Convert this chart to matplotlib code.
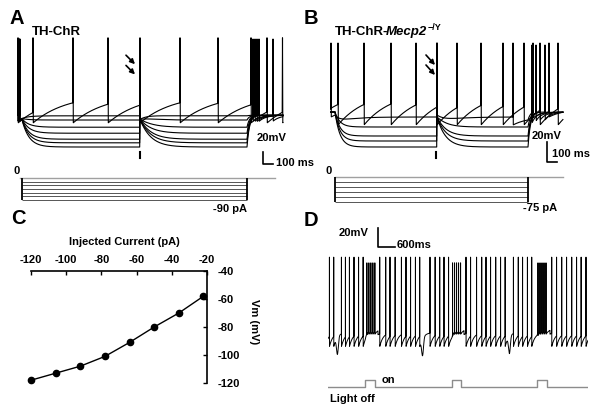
import numpy as np
import matplotlib
matplotlib.use("Agg")
import matplotlib.pyplot as plt

plt.rcParams["font.family"] = ["Liberation Sans", "DejaVu Sans"]
plt.rcParams["font.weight"] = "bold"
plt.rcParams["axes.linewidth"] = 1.2
plt.rcParams["axes.unicode_minus"] = False

# ---------------- data ----------------
# Panel A : TH-ChR
a_steps_pA = [0, -15, -30, -45, -60, -75, -90]
a_times_ms = [50, 1230, 2300, 2660]            # step on, light flash, step off, sweep end
a_rest_mV = -47
a_levels_mV = [-48, -55, -67, -77, -87, -93, -100]
a_start_spikes_ms = [6, 10, 14, 18, 22, 26, 30]
a_rebound_spikes_ms = [[2360], [2380], [], [2400, 2560], [], [2420], []]
a_pace_spikes_ms = [10, 160, 560, 910, 1230, 1630, 2010, 2340, 2500, 2655]

# Panel B : TH-ChR-Mecp2-/Y
b_steps_pA = [0, -15, -30, -45, -60, -75]
b_times_ms = [50, 1070, 1980, 2330]
b_rest_mV = -45
b_levels_mV = [-60, -69, -74, -80]
b_rebound_spikes_ms = [[2020], [2060], [2100], [2150]]
b_slow_spikes_ms = [10, 1070, 1830, 2030, 2190]
b_pace_spikes_ms = [80, 340, 610, 860, 1070, 1270, 1510, 1730, 1940, 2100, 2280]

# Panel C : I-V relation
c_current_pA = [-120, -106, -92, -78, -64, -50, -36, -22]
c_vm_mV = [-118, -113, -108, -101, -91, -80, -70, -58]

# Panel D : spontaneous firing with light pulses
d_spikes_s = [0.05, 0.20, 0.47, 0.61, 0.75, 0.91, 1.07, 1.23, 1.81, 2.02, 2.17, 2.35,
              2.57, 2.73, 2.89, 3.06, 3.21, 3.57, 3.75, 3.91, 4.06, 4.22, 4.83, 4.99,
              5.20, 5.38, 5.53, 5.69, 5.87, 6.04, 6.20, 6.49, 6.66, 6.81, 6.98, 7.13,
              7.83, 8.00, 8.18, 8.35, 8.53, 8.70, 8.86, 9.03]
d_burst_spikes_s = [1.36, 1.43, 1.50, 1.57, 1.64,
                    4.36, 4.43, 4.50, 4.57, 4.64,
                    7.35, 7.42, 7.49, 7.56, 7.63]
d_dips_s = [0.33, 3.31, 6.35]
d_light_on_s = [1.30, 4.34, 7.32]
d_light_off_s = [1.65, 4.66, 7.67]
d_end_s = 9.1

# ---------------- helpers ----------------
W, H = 600, 412
fig = plt.figure(figsize=(6, 4.12), dpi=100)


def box(x0, y0, x1, y1):
    return [x0 / W, 1 - y1 / H, (x1 - x0) / W, (y1 - y0) / H]


def ftext(x, y, s, **kw):
    kw.setdefault("ha", "left")
    kw.setdefault("va", "center")
    return fig.text(x / W, 1 - y / H, s, **kw)


def step_baseline(t, rest, level, on, light, off, tau_on, tau_light, tau_off, reset):
    v = np.full_like(t, rest, dtype=float)
    m1 = (t >= on) & (t < light)
    v[m1] = rest + (level - rest) * (1 - np.exp(-(t[m1] - on) / tau_on))
    m2 = (t >= light) & (t < off)
    v[m2] = reset + (level - reset) * (1 - np.exp(-(t[m2] - light) / tau_light))
    v_off = reset + (level - reset) * (1 - np.exp(-(off - light) / tau_light))
    m3 = t >= off
    v[m3] = v_off + (rest - v_off) * (1 - np.exp(-(t[m3] - off) / tau_off))
    return v


def spike_train(t, base, spikes, peaks, ahps, tau, width, pacemaker=False):
    """Membrane trace: baseline + after-hyperpolarisation of the latest spike + spikes."""
    order = np.argsort(spikes)
    sp = np.asarray(spikes, float)[order]
    pk = np.asarray(peaks, float)[order] if np.ndim(peaks) else np.full(sp.shape, float(peaks))
    ah = np.asarray(ahps, float)[order] if np.ndim(ahps) else np.full(sp.shape, float(ahps))
    v = base.copy()
    idx = np.searchsorted(sp, t, side="right") - 1
    m = idx >= 0
    v[m] -= ah[idx[m]] * np.exp(-(t[m] - sp[idx[m]]) / tau)
    if pacemaker and len(sp) > 1:  # before the first spike: continue the preceding ramp
        prev = sp[0] - (sp[1] - sp[0])
        pre = (~m) & (t >= prev)
        v[pre] -= ah[0] * np.exp(-(t[pre] - prev) / tau)
    for ts, p in zip(sp, pk):
        k = np.clip(1 - np.abs(t - ts) / width, 0, None)
        v = v + (p - v) * k
    return v


def draw_steps(ax, steps, on, off, x0, x1):
    ax.plot([x0, x1], [0, 0], color="#a0a0a0", lw=1.0)
    ax.hlines(steps[1:], on, off, color="#555555", lw=0.7)
    ax.vlines([on, off], min(steps), 0, color="black", lw=1.3)


def arrow(ax, x0, y0, x1, y1):
    ax.annotate("", xy=(x1, y1), xytext=(x0, y0),
                arrowprops=dict(arrowstyle="-|>", color="black", lw=1.2,
                                mutation_scale=7, shrinkA=0, shrinkB=0))


# ---------------- Panel A ----------------
on, light, off, end = a_times_ms
axA = fig.add_axes(box(17, 30, 297, 170))
axA.set_xlim(0, 2800)
axA.set_ylim(-138.3, 95)
axA.axis("off")
t = np.arange(0, end, 1.0)
for i, lev in enumerate(a_levels_mV):
    base = step_baseline(t, a_rest_mV, lev, on, light, off, 70, 100, 25, -44)
    sp = [a_start_spikes_ms[i], light] + a_rebound_spikes_ms[i]
    v = spike_train(t, base, sp, 80, 10, 70, 3)
    axA.plot(t, v, color="black", lw=0.8)
v = spike_train(t, np.full_like(t, -12.0), a_pace_spikes_ms, 82, 48, 330, 3, pacemaker=True)
axA.plot(t, v, color="black", lw=0.8)
axA.plot([light, light], [-108.3, -118.3], color="black", lw=1.5)
axA.plot([2460, 2460, 2560], [-108.3, -128.3, -128.3], color="black", lw=1.2)
arrow(axA, light - 140, 53, light - 50, 38)
arrow(axA, light - 140, 36, light - 50, 21)

axAs = fig.add_axes(box(17, 165, 297, 215))
axAs.set_xlim(0, 2800)
axAs.set_ylim(-151.4, 53.2)
axAs.axis("off")
draw_steps(axAs, a_steps_pA, on, off, 30, 2580)

# ---------------- Panel B ----------------
on, light, off, end = b_times_ms
axB = fig.add_axes(box(330, 30, 600, 170))
axB.set_xlim(0, 2700)
axB.set_ylim(-103, 37)
axB.axis("off")
t = np.arange(0, end, 1.0)
for i, lev in enumerate(b_levels_mV):
    base = step_baseline(t, b_rest_mV, lev, on, light, off, 50, 80, 25, -42)
    v = spike_train(t, base, [light] + b_rebound_spikes_ms[i], 22, 8, 60, 3)
    axB.plot(t, v, color="black", lw=0.8)
base = step_baseline(t, -42, -50, on, light, off, 50, 80, 25, -40)
v = spike_train(t, base, b_slow_spikes_ms, 24, 8, 150, 3)
axB.plot(t, v, color="black", lw=0.8)
v = spike_train(t, np.full_like(t, -24.0), b_pace_spikes_ms, 24, 34, 280, 3, pacemaker=True)
axB.plot(t, v, color="black", lw=0.8)
axB.plot([light - 10, light - 10], [-85, -91], color="black", lw=1.5)
axB.plot([2170, 2170, 2270], [-75, -95, -95], color="black", lw=1.2)
arrow(axB, light - 110, 12, light - 20, 2)
arrow(axB, light - 110, 2, light - 20, -8)

axBs = fig.add_axes(box(330, 165, 600, 215))
axBs.set_xlim(0, 2700)
axBs.set_ylim(-114, 36)
axBs.axis("off")
draw_steps(axBs, b_steps_pA, on, off, 50, 2330)

# ---------------- Panel C ----------------
axC = fig.add_axes(box(31, 271, 207, 383))
axC.plot(c_current_pA, c_vm_mV, color="black", lw=1.0, marker="o", ms=4.5, clip_on=False)
axC.set_xlim(-120, -20)
axC.set_ylim(-120, -40)
for s in ("bottom", "left"):
    axC.spines[s].set_visible(False)
axC.xaxis.tick_top()
axC.yaxis.tick_right()
axC.set_xticks([-120, -100, -80, -60, -40, -20])
axC.set_yticks([-120, -100, -80, -60, -40])
axC.tick_params(axis="x", direction="in", length=3, width=1, labelsize=8, pad=4)
axC.tick_params(axis="y", direction="in", length=3, width=1, labelsize=8, pad=8)
for lab in axC.get_xticklabels() + axC.get_yticklabels():
    lab.set_fontweight("bold")
axC.patch.set_alpha(0)

# ---------------- Panel D ----------------
axD = fig.add_axes(box(328, 220, 588, 392))
axD.set_xlim(0, 9.1)
axD.set_ylim(-104.6, 76)
axD.axis("off")
td = np.arange(0, d_end_s, 0.001)
base = np.full_like(td, -42.0)
for a, b in zip(d_light_on_s, d_light_off_s):
    m = (td >= a) & (td < b + 0.1)
    base[m] += 4 * (1 - np.exp(-(td[m] - a) / 0.03))
for d in d_dips_s:
    base -= 18 * np.exp(-((td - d) / 0.045) ** 2)
all_sp = d_spikes_s + d_burst_spikes_s
all_pk = [37] * len(d_spikes_s) + [31] * len(d_burst_spikes_s)
all_ah = [15] * len(d_spikes_s) + [6] * len(d_burst_spikes_s)
v = spike_train(td, base, all_sp, all_pk, all_ah, 0.12, 0.003, pacemaker=True)
axD.plot(td, v, color="black", lw=0.7)
axD.plot([1.74, 1.74, 2.34], [67.65, 47.65, 47.65], color="black", lw=1.2)

axL = fig.add_axes(box(328, 372, 588, 392))
axL.set_xlim(0, 9.1)
axL.set_ylim(-0.714, 2.14)
axL.axis("off")
xs, ys = [0.0], [0]
for a, b in zip(d_light_on_s, d_light_off_s):
    xs += [a, a, b, b]
    ys += [0, 1, 1, 0]
xs.append(d_end_s)
ys.append(0)
axL.plot(xs, ys, color="#8c8c8c", lw=1.0)

# ---------------- texts ----------------
ftext(9, 19, "A", fontsize=14.5)
ftext(32, 32, "TH-ChR", fontsize=9.5)
ftext(257, 138, "20mV", fontsize=8)
ftext(276, 163, "100 ms", fontsize=8)
ftext(13, 171, "0", fontsize=8)
ftext(247, 209, "-90 pA", fontsize=8, ha="right")

ftext(304, 19, "B", fontsize=14.5)
renderer = fig.canvas.get_renderer()
t1 = ftext(335, 32, "TH-ChR-", fontsize=9.5)
x1 = t1.get_window_extent(renderer).x1
t2 = fig.text((x1 - 2.5) / W, 1 - 32 / H, "Mecp2", fontsize=9.5, style="italic", ha="left", va="center")
x2 = t2.get_window_extent(renderer).x1
fig.text((x2 + 0.5) / W, 1 - 27 / H, "\u2212/Y", fontsize=6.5, ha="left", va="center")
ftext(532, 136, "20mV", fontsize=8)
ftext(552, 154, "100 ms", fontsize=8)
ftext(326, 171, "0", fontsize=8)
ftext(557, 208, "-75 pA", fontsize=8, ha="right")

ftext(11, 219, "C", fontsize=14.5)
ftext(124, 242, "Injected Current (pA)", fontsize=8, ha="center")
ftext(254, 322, "Vm (mV)", fontsize=8, ha="center", rotation=-90)

ftext(304, 221, "D", fontsize=14.5)
ftext(339, 233, "20mV", fontsize=8)
ftext(397, 245, "600ms", fontsize=8)
ftext(382, 380, "on", fontsize=8)
ftext(330, 399, "Light off", fontsize=8)

fig.savefig("out.png", dpi=100)
